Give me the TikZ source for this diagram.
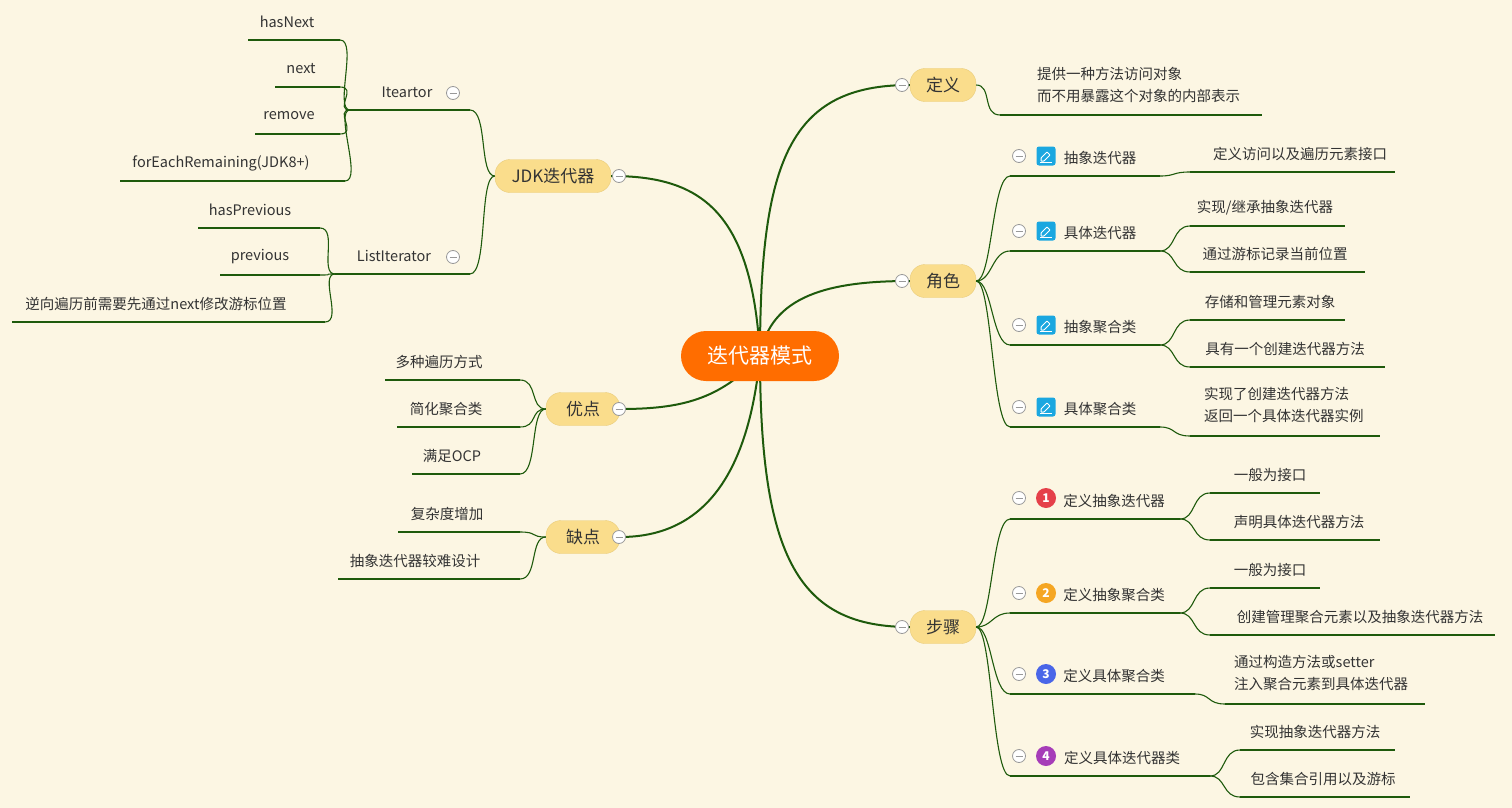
\documentclass[tikz,border=0pt]{standalone}
\usepackage{fontspec}
\setmainfont{Noto Sans CJK SC}
\definecolor{bg}{HTML}{FCF6E3}
\definecolor{ln}{HTML}{1E5A0C}
\definecolor{topic}{HTML}{FADD8C}
\definecolor{topicb}{HTML}{E9CC7A}
\definecolor{ctr}{HTML}{FF6D00}
\definecolor{ico}{HTML}{1AA7E0}
\definecolor{txt}{HTML}{333333}
\tikzset{
 br/.style={draw=ln,line width=1.1pt},
 mainbr/.style={draw=ln,line width=2pt},
 lt/.style={font=\fontsize{14.5}{18}\selectfont,text=txt,inner sep=0pt,align=left},
 topicnode/.style={fill=topic,draw=topicb,rounded corners=15pt,minimum height=33pt,font=\fontsize{17}{20}\selectfont,text=txt,inner sep=0pt},
 coll/.style={circle,draw=gray!80,fill=white,line width=0.8pt,minimum size=13pt,inner sep=0pt,
   path picture={\draw[gray!80,line width=1pt]([xshift=-3.5pt]path picture bounding box.center)--([xshift=3.5pt]path picture bounding box.center);}},
 icon/.style={fill=ico,rounded corners=2.5pt,minimum size=19pt,inner sep=0pt,
   path picture={\draw[white,line width=1pt,rounded corners=0.5pt]
     ([shift={(-5pt,-5pt)}]path picture bounding box.center)--++(0,3pt)--++(6pt,6pt)--++(3pt,-3pt)--++(-6pt,-6pt)--cycle;
     \draw[white,line width=0.8pt]([shift={(-6pt,-6.5pt)}]path picture bounding box.center)--++(12pt,0);}},
 badge/.style={circle,inner sep=0pt,minimum size=20pt,text=white,font=\fontsize{12}{12}\selectfont\bfseries},
}
\newcommand\lf[6]{%
 \coordinate (#1-a) at (#2,#4); \coordinate (#1-b) at (#3,#4);
 \draw[br] (#1-a)--(#1-b);
 \node[lt] (#1) at ({#5},{#4-18}) {#6};}
\newcommand\curv[2]{\draw[br] (#1) .. controls +(16,0) and +(-18,0) .. (#2);}
\newcommand\curvl[2]{\draw[br] (#1) .. controls +(-16,0) and +(18,0) .. (#2);}
\begin{document}
\begin{tikzpicture}[x=1pt,y=-1pt]
\fill[bg] (0,0) rectangle (1512,808);
\useasboundingbox (0,0) rectangle (1512,808);
% topics
\node[topicnode,minimum width=66pt] (def) at (943,85) {定义};
\node[topicnode,minimum width=66pt] (role) at (943,281) {角色};
\node[topicnode,minimum width=66pt] (step) at (943,627) {步骤};
\node[topicnode,minimum width=116pt] (jdk) at (553,176) {JDK迭代器};
\node[topicnode,minimum width=74pt] (pro) at (583,409) {优点};
\node[topicnode,minimum width=74pt] (con) at (583,537) {缺点};
\coordinate (c) at (760,356);
% main branches
\draw[mainbr] (c) .. controls (760,160) and (790,85) .. (def.west);
\draw[mainbr] (c) .. controls (770,295) and (830,281) .. (role.west);
\draw[mainbr] (c) .. controls (760,560) and (800,627) .. (step.west);
\draw[mainbr] (c) .. controls (752,210) and (700,176) .. (jdk.east);
\draw[mainbr] (c) .. controls (720,400) and (680,409) .. (pro.east);
\draw[mainbr] (c) .. controls (748,480) and (700,537) .. (con.east);
\node[coll] (k1) at (902,85) {};
\node[coll] (k2) at (902,281) {};
\node[coll] (k3) at (902,627) {};
\node[coll] (k4) at (619,176) {};
\node[coll] (k5) at (619,409) {};
\node[coll] (k6) at (619,537) {};
% center
\node[fill=ctr,rounded corners=25pt,minimum width=158pt,minimum height=50pt,text=white,font=\fontsize{21}{24}\selectfont] (center) at (760,356) {迭代器模式};
% 定义
\coordinate (d-a) at (1000,115); \coordinate (d-b) at (1262,115);
\draw[br] (d-a)--(d-b);
\node[lt,anchor=west,font=\fontsize{14.5}{22.5}\selectfont] (dt) at (1037,85) {提供一种方法访问对象\\而不用暴露这个对象的内部表示};
\curv{def.east}{d-a}
% 角色
\lf{r1}{1010}{1160}{176}{1100}{抽象迭代器}
\lf{r2}{1010}{1160}{251}{1100}{具体迭代器}
\lf{r3}{1010}{1160}{345}{1100}{抽象聚合类}
\lf{r4}{1010}{1160}{427}{1100}{具体聚合类}
\foreach \n/\y in {r1/156,r2/231,r3/325,r4/407}{
 \node[coll] (\n-c) at (1019,\y) {}; \node[icon] (\n-i) at (1046,\y) {};}
\foreach \n in {r1,r2,r3,r4}{\curv{role.east}{\n-a}}
\lf{g1}{1190}{1395}{172}{1300}{定义访问以及遍历元素接口}
\lf{g2}{1190}{1345}{226}{1265}{实现/继承抽象迭代器}
\lf{g3}{1190}{1365}{272}{1275}{通过游标记录当前位置}
\lf{g4}{1190}{1345}{320}{1270}{存储和管理元素对象}
\lf{g5}{1190}{1385}{367}{1285}{具有一个创建迭代器方法}
\coordinate (g6-a) at (1190,436); \coordinate (g6-b) at (1380,436);
\draw[br] (g6-a)--(g6-b);
\node[lt,anchor=west,font=\fontsize{14.5}{22.5}\selectfont] (g6) at (1204,405) {实现了创建迭代器方法\\返回一个具体迭代器实例};
\curv{r1-b}{g1-a}
\curv{r2-b}{g2-a} \curv{r2-b}{g3-a}
\curv{r3-b}{g4-a} \curv{r3-b}{g5-a}
\curv{r4-b}{g6-a}
% 步骤
\lf{s1}{1010}{1180}{519}{1114}{定义抽象迭代器}
\lf{s2}{1010}{1180}{613}{1114}{定义抽象聚合类}
\lf{s3}{1010}{1195}{694}{1114}{定义具体聚合类}
\lf{s4}{1010}{1210}{776}{1122}{定义具体迭代器类}
\foreach \n/\y in {s1/498,s2/593,s3/674,s4/756}{\node[coll] (\n-c) at (1019,\y) {};}
\node[badge,fill={rgb,255:red,229;green,64;blue,74}] (b1) at (1046,498) {1};
\node[badge,fill={rgb,255:red,245;green,166;blue,35}] (b2) at (1046,593) {2};
\node[badge,fill={rgb,255:red,74;green,102;blue,232}] (b3) at (1046,674) {3};
\node[badge,fill={rgb,255:red,166;green,61;blue,184}] (b4) at (1046,756) {4};
\foreach \n in {s1,s2,s3,s4}{\curv{step.east}{\n-a}}
\lf{h1}{1210}{1320}{493}{1270}{一般为接口}
\lf{h2}{1210}{1380}{540}{1299}{声明具体迭代器方法}
\lf{h3}{1210}{1320}{588}{1270}{一般为接口}
\lf{h4}{1210}{1495}{635}{1360}{创建管理聚合元素以及抽象迭代器方法}
\coordinate (h5-a) at (1225,704); \coordinate (h5-b) at (1425,704);
\draw[br] (h5-a)--(h5-b);
\node[lt,anchor=west,font=\fontsize{14.5}{22.5}\selectfont] (h5) at (1234,673) {通过构造方法或setter\\注入聚合元素到具体迭代器};
\lf{h6}{1240}{1395}{750}{1315}{实现抽象迭代器方法}
\lf{h7}{1240}{1410}{797}{1323}{包含集合引用以及游标}
\curv{s1-b}{h1-a} \curv{s1-b}{h2-a}
\curv{s2-b}{h3-a} \curv{s2-b}{h4-a}
\curv{s3-b}{h5-a}
\curv{s4-b}{h6-a} \curv{s4-b}{h7-a}
% JDK
\lf{it}{470}{350}{110}{407}{Iteartor}
\lf{li}{470}{335}{274}{394}{ListIterator}
\node[coll] (it-c) at (453,93) {};
\node[coll] (li-c) at (453,257) {};
\curvl{jdk.west}{it-a} \curvl{jdk.west}{li-a}
\lf{i1}{340}{248}{40}{287}{hasNext}
\lf{i2}{340}{275}{87}{301}{next}
\lf{i3}{340}{255}{134}{289}{remove}
\lf{i4}{345}{120}{181}{221}{forEachRemaining(JDK8+)}
\foreach \n in {i1,i2,i3,i4}{\curvl{it-b}{\n-a}}
\lf{l1}{320}{198}{228}{250}{hasPrevious}
\lf{l2}{320}{220}{275}{260}{previous}
\lf{l3}{325}{12}{322}{156}{逆向遍历前需要先通过next修改游标位置}
\foreach \n in {l1,l2,l3}{\curvl{li-b}{\n-a}}
% 优点
\lf{p1}{520}{385}{380}{439}{多种遍历方式}
\lf{p2}{520}{397}{427}{446}{简化聚合类}
\lf{p3}{520}{412}{474}{452}{满足OCP}
\foreach \n in {p1,p2,p3}{\curvl{pro.west}{\n-a}}
% 缺点
\lf{q1}{520}{398}{532}{447}{复杂度增加}
\lf{q2}{520}{338}{579}{415}{抽象迭代器较难设计}
\foreach \n in {q1,q2}{\curvl{con.west}{\n-a}}
\end{tikzpicture}
\end{document}
